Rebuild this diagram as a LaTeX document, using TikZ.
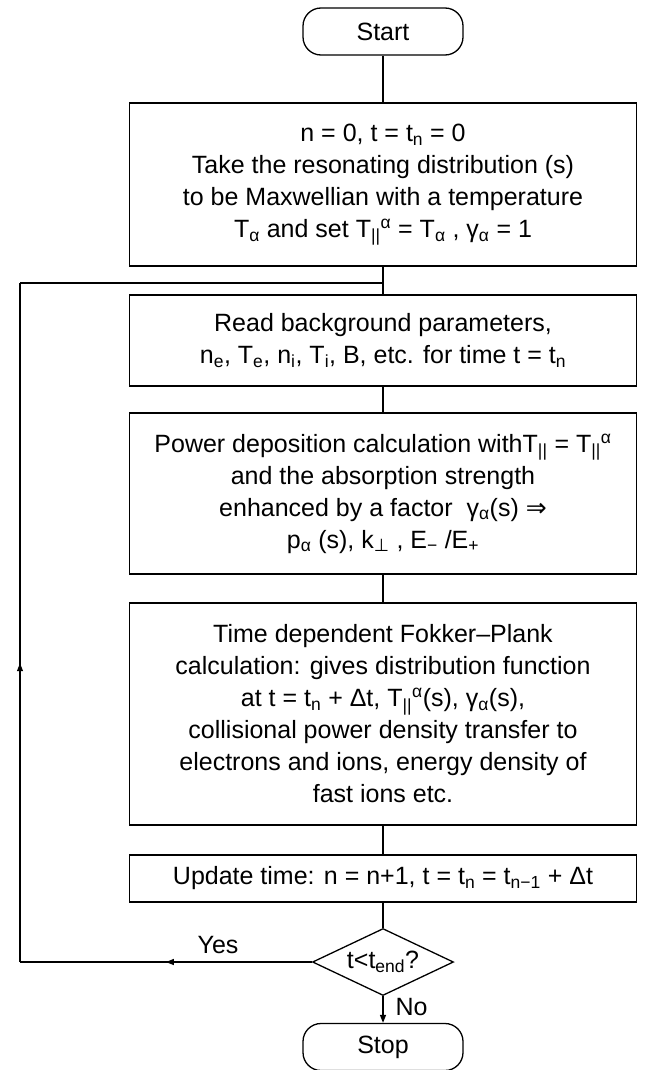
\documentclass[tikz,border=0pt]{standalone}
\usepackage{fontspec}
\setmainfont{Liberation Sans}
\newfontfamily\symfont{DejaVu Sans}
\usetikzlibrary{shapes.geometric, arrows.meta, decorations.markings}
\newcommand{\lo}[1]{\textsubscript{#1}}
\newcommand{\hi}[1]{\textsuperscript{#1}}
\begin{document}
\begin{tikzpicture}[x=1pt,y=-1pt,
  every node/.style={font=\fontsize{25}{32}\selectfont},
  line/.style={line width=1.3pt},
  box/.style={draw, line width=1.3pt, align=center, minimum width=507pt, inner sep=0pt},
  term/.style={draw, line width=1.3pt, rounded corners=18pt, minimum width=160pt, minimum height=47pt, inner sep=0pt},
  midarrow/.style={decoration={markings, mark=at position #1 with {\arrow{Triangle[length=8pt,width=6pt]}}}, postaction={decorate}}
]
\useasboundingbox (0,0) rectangle (648,1070);

\node[term] (start) at (383,31.5) {Start};

\node[box, minimum height=163pt] (b1) at (383,184.5) {n = 0, t = t\lo{n} = 0\\
Take the resonating distribution (s)\\
to be Maxwellian with a temperature\\
T\lo{α} and set T\lo{||}\hi{α} = T\lo{α} , γ\lo{α} = 1};

\node[box, minimum height=91pt] (b2) at (383,340.5) {Read background parameters,\\
n\lo{e}, T\lo{e}, n\lo{i}, T\lo{i}, B, etc. for time t = t\lo{n}};

\node[box, minimum height=161pt] (b3) at (383,493.5) {Power deposition calculation withT\lo{||} = T\lo{||}\hi{α}\\
and the absorption strength\\
enhanced by a factor \ γ\lo{α}(s) {\symfont ⇒}\\
p\lo{α} (s), k\lo{{\symfont ⊥}} , E\lo{−} /E\lo{+}};

\node[box, minimum height=222pt] (b4) at (383,714) {Time dependent Fokker–Plank\\
calculation: gives distribution function\\
at t = t\lo{n} + Δt, T\lo{||}\hi{α}(s), γ\lo{α}(s),\\
collisional power density transfer to\\
electrons and ions, energy density of\\
fast ions etc.};

\node[box, minimum height=47pt] (b5) at (383,878.5) {Update time: n = n+1, t = t\lo{n} = t\lo{n−1} + Δt};

\node[draw, diamond, line width=1.3pt, minimum width=141pt, minimum height=67pt, inner sep=0pt] (d) at (383,962) {};
\node (dt) at (383,962) {t<t\lo{end}?};

\node[term] (stop) at (383,1047) {Stop};

\coordinate (j) at (383,283);
\coordinate (cl) at (20,962);
\coordinate (ct) at (20,283);

\draw[line] (start.south) -- (b1.north);
\draw[line] (b1.south) -- (j);
\draw[line] (j) -- (b2.north);
\draw[line] (b2.south) -- (b3.north);
\draw[line] (b3.south) -- (b4.north);
\draw[line] (b4.south) -- (b5.north);
\draw[line] (b5.south) -- (d.north);
\draw[line, -{Triangle[length=8pt,width=6pt]}] (d.south) -- (stop.north);
\draw[line, midarrow=0.5] (d.west) -- (cl);
\draw[line, midarrow=0.44] (cl) -- (ct);
\draw[line] (ct) -- (j);

\node (yes) at (218,945) {Yes};
\node[anchor=west] (no) at (392,1007) {No};
\end{tikzpicture}
\end{document}
